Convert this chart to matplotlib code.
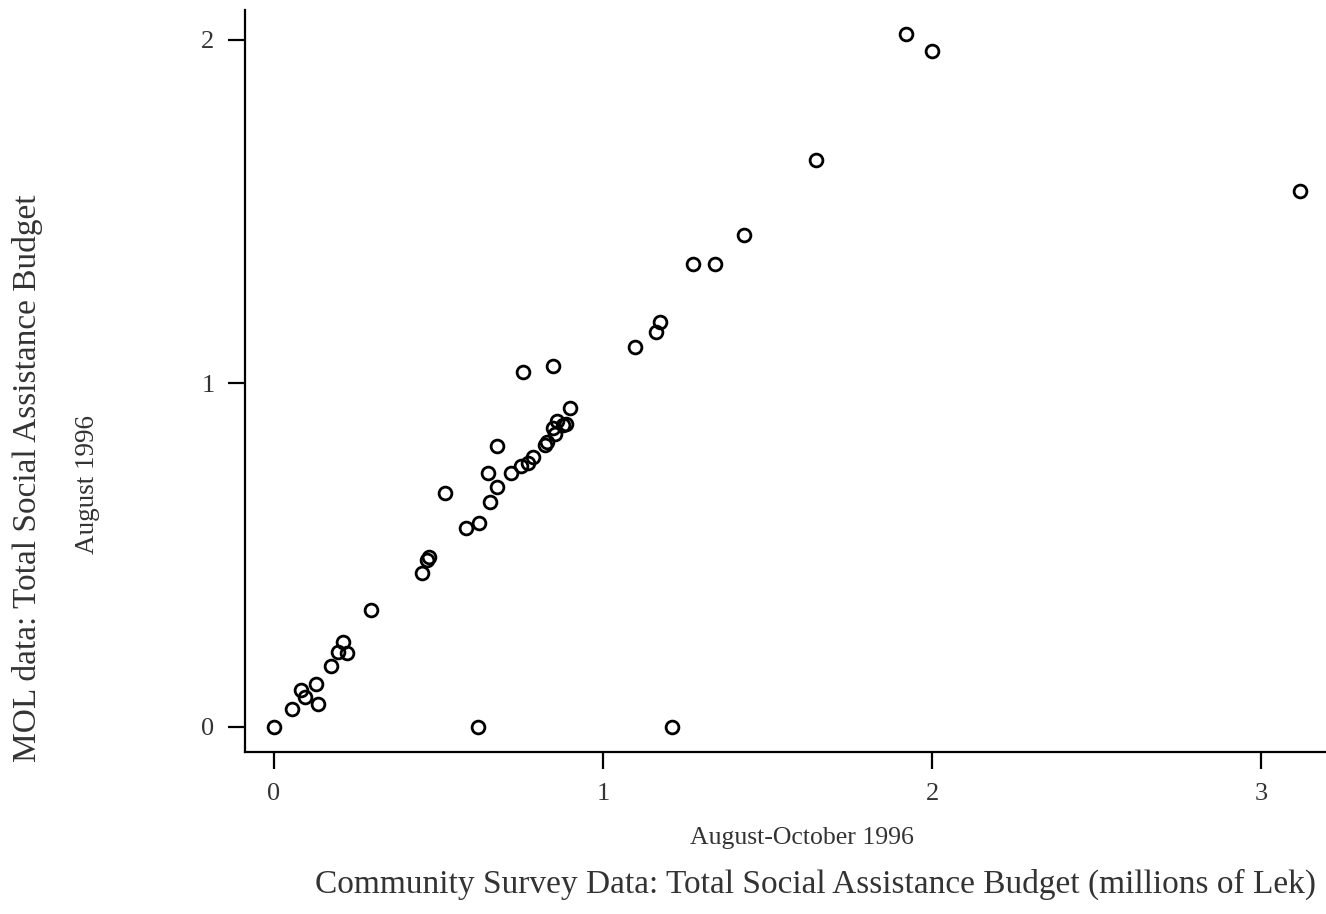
import numpy as np
import matplotlib.pyplot as plt

# community survey (x) vs MOL data (y), millions of Lek
survey = [0.0, 0.055, 0.082, 0.094, 0.128, 0.134, 0.173, 0.195, 0.210, 0.222,
          0.295, 0.450, 0.465, 0.471, 0.520, 0.584, 0.623, 0.620, 0.657, 0.650,
          0.678, 0.678, 0.720, 0.751, 0.772, 0.787, 0.824, 0.830, 0.848, 0.854,
          0.860, 0.878, 0.888, 0.900, 0.757, 0.848, 1.097, 1.161, 1.173, 1.210,
          1.274, 1.340, 1.429, 1.647, 1.921, 2.000, 3.119]
mol = [0.0, 0.052, 0.108, 0.087, 0.125, 0.067, 0.178, 0.218, 0.247, 0.215,
       0.341, 0.448, 0.486, 0.495, 0.681, 0.579, 0.594, 0.0, 0.655, 0.739,
       0.699, 0.818, 0.739, 0.760, 0.769, 0.786, 0.821, 0.830, 0.870, 0.853,
       0.891, 0.879, 0.882, 0.929, 1.033, 1.051, 1.106, 1.150, 1.179, 0.0,
       1.348, 1.348, 1.432, 1.651, 2.017, 1.968, 1.560]
xticks = [0, 1, 2, 3]
yticks = [0, 1, 2]

plt.rcParams['font.family'] = ['Liberation Serif', 'DejaVu Serif']
txt = '#333333'

fig = plt.figure(figsize=(13.26, 9.14), dpi=100)
ax = fig.add_axes([0.1848, 0.1772, 0.8145, 0.8118])

ax.plot(survey, mol, linestyle='none', marker='o', markersize=9.2,
        markerfacecolor='none', markeredgecolor='black', markeredgewidth=2)

ax.set_xlim(-0.088, 3.194)
ax.set_ylim(-0.073, 2.087)
ax.set_xticks(xticks)
ax.set_yticks(yticks)
ax.spines['top'].set_visible(False)
ax.spines['right'].set_visible(False)
for s in ['left', 'bottom']:
    ax.spines[s].set_linewidth(1.6)
ax.tick_params(length=12, width=1.6, labelsize=19, labelcolor=txt, pad=10)

fig.text(0.605, 0.083, 'August-October 1996', ha='center', va='center',
         fontsize=18.5, color=txt)
fig.text(0.615, 0.032, 'Community Survey Data: Total Social Assistance Budget (millions of Lek)',
         ha='center', va='center', fontsize=24, color=txt)
fig.text(0.021, 0.477, 'MOL data: Total Social Assistance Budget', rotation=90,
         ha='center', va='center', fontsize=24, color=txt)
fig.text(0.066, 0.47, 'August 1996', rotation=90, ha='center', va='center',
         fontsize=19.5, color=txt)

fig.savefig('out.png', dpi=100)
